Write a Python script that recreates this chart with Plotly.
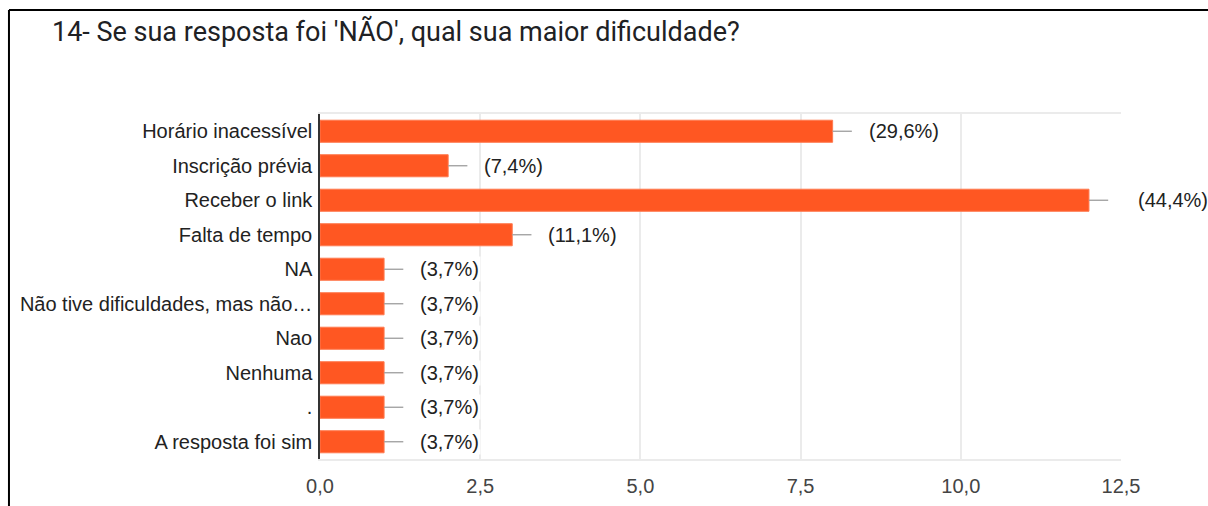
import plotly.graph_objects as go

categories = [
    "Horário inacessível",
    "Inscrição prévia",
    "Receber o link",
    "Falta de tempo",
    "NA",
    "Não tive dificuldades, mas não…",
    "Nao",
    "Nenhuma",
    ".",
    "A resposta foi sim",
]
counts = [8, 2, 12, 3, 1, 1, 1, 1, 1, 1]
pct_labels = ["(29,6%)", "(7,4%)", "(44,4%)", "(11,1%)", "(3,7%)", "(3,7%)",
              "(3,7%)", "(3,7%)", "(3,7%)", "(3,7%)"]
x_ticks = [0, 2.5, 5, 7.5, 10, 12.5]
x_tick_text = ["0,0", "2,5", "5,0", "7,5", "10,0", "12,5"]
title = "14- Se sua resposta foi 'NÃO', qual sua maior dificuldade?"

WHISKER = 0.3
X_MAX = 12.5
FONT = "Liberation Sans, Arial, sans-serif"

fig = go.Figure()
fig.add_trace(go.Bar(
    y=categories,
    x=counts,
    orientation="h",
    width=0.64,
    marker=dict(color="#ff5722", line=dict(color="#ff7a50", width=1)),
    error_x=dict(type="data", symmetric=False, array=[WHISKER] * len(counts),
                 arrayminus=[0] * len(counts), width=0, thickness=1.3,
                 color="#9e9e9e"),
    hoverinfo="skip",
))

annotations = []
for cat, v, lab in zip(categories, counts, pct_labels):
    end = v + WHISKER
    shift = 15
    if end + 0.5 > X_MAX:
        shift = 28
    annotations.append(dict(
        x=end, y=cat, xref="x", yref="y", text=lab, showarrow=False,
        xanchor="left", yanchor="middle", xshift=shift,
        bgcolor="white",
        font=dict(family=FONT, size=20, color="#222222"),
    ))

annotations.append(dict(
    x=-0.3371, y=1.2377, xref="paper", yref="paper", text=title, showarrow=False,
    xanchor="left", yanchor="middle",
    font=dict(family="Roboto, sans-serif", size=27, color="#202124"),
))

fig.update_layout(
    width=1208, height=506,
    margin=dict(l=320, r=87, t=114, b=47, autoexpand=False),
    paper_bgcolor="white", plot_bgcolor="white",
    showlegend=False,
    bargap=0.36,
    annotations=annotations,
    shapes=[
        dict(type="line", xref="paper", yref="paper", x0=-0.3883, x1=1.2,
             y0=1.3014, y1=1.3014, line=dict(color="black", width=2)),
        dict(type="line", xref="paper", yref="paper", x0=-0.3883, x1=-0.3883,
             y0=1.3014, y1=-0.2, line=dict(color="black", width=2)),
    ],
    xaxis=dict(
        range=[0, X_MAX], tickvals=x_ticks, ticktext=x_tick_text,
        showgrid=True, gridcolor="#ebebeb", gridwidth=1.5,
        zeroline=False, showline=True, linecolor="#ebebeb", linewidth=1.5,
        mirror=True, ticks="", ticklen=0, ticklabelstandoff=8,
        automargin=False,
        tickfont=dict(family=FONT, size=20, color="#444444"),
        fixedrange=True,
    ),
    yaxis=dict(
        autorange="reversed", showgrid=False, zeroline=False,
        showline=True, linecolor="#333333", linewidth=1.5,
        ticks="", ticklabelstandoff=2, automargin=False,
        tickfont=dict(family=FONT, size=20, color="#222222"),
        fixedrange=True,
    ),
)

fig.write_html(
    "out.html",
    config={"displayModeBar": False},
    post_script="document.body.style.margin='0';document.body.style.overflow='hidden';",
)
